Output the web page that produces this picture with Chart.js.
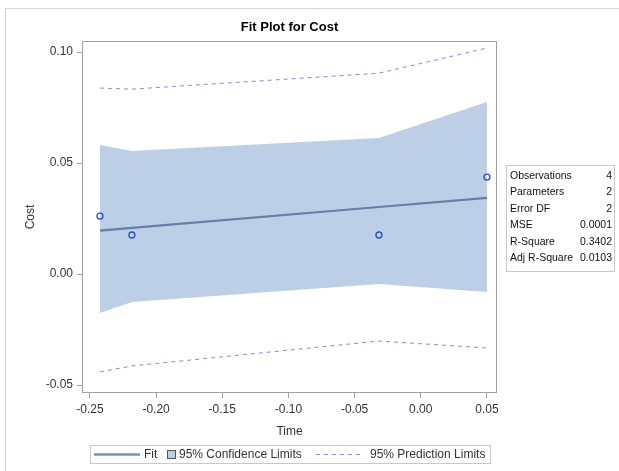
<!DOCTYPE html>
<html>
<head>
<meta charset="utf-8">
<script src="https://cdn.jsdelivr.net/npm/chart.js@4/dist/chart.umd.min.js"></script>
<style>
  html, body { margin: 0; padding: 0; background: #fff; }
  #wrap { width: 619px; height: 471px; position: relative; }
</style>
</head>
<body>
<div id="wrap"><canvas id="c" width="619" height="471"></canvas></div>
<script>
// Observations
const timeValues = [-0.2424, -0.2183, -0.0316, 0.05];
const costValues = [0.0261, 0.0176, 0.0176, 0.0437];
// Fitted line at each observation
const fitValues = [0.0196, 0.0208, 0.0302, 0.0343];
// 95% confidence band
const confUpper = [0.0581, 0.0554, 0.0613, 0.0775];
const confLower = [-0.0176, -0.0126, -0.0045, -0.0081];
// 95% prediction limits
const predUpper = [0.0838, 0.0833, 0.0905, 0.1018];
const predLower = [-0.0441, -0.0414, -0.0302, -0.0333];
// Axis ticks
const xTicks = [-0.25, -0.20, -0.15, -0.10, -0.05, 0.00, 0.05];
const yTicks = [-0.05, 0.00, 0.05, 0.10];
// Fit statistics
const statLabels = ['Observations', 'Parameters', 'Error DF', 'MSE', 'R-Square', 'Adj R-Square'];
const statValues = ['4', '2', '2', '0.0001', '0.3402', '0.0103'];

const FONT = '"Liberation Sans", Arial, sans-serif';
const TXT = '#333333';
const BAND = '#bdcfe7';
const FIT = '#657fa9';
const PRED = '#858bd2';
const MARK = '#2b4fb6';

const pts = (ys) => timeValues.map((x, i) => ({ x: x, y: ys[i] }));

const decorations = {
  id: 'decorations',
  beforeDraw(chart) {
    const ctx = chart.ctx;
    ctx.save();
    ctx.fillStyle = '#fff';
    ctx.fillRect(0, 0, chart.width, chart.height);
    // outer frame
    ctx.strokeStyle = '#d4d4d4';
    ctx.lineWidth = 1;
    ctx.beginPath();
    ctx.moveTo(5.5, 480);
    ctx.lineTo(5.5, 8.5);
    ctx.lineTo(640, 8.5);
    ctx.stroke();
    ctx.restore();
  },
  afterDraw(chart) {
    const ctx = chart.ctx;
    const a = chart.chartArea;
    ctx.save();
    // plot frame
    ctx.strokeStyle = '#a0a0a0';
    ctx.lineWidth = 1;
    ctx.strokeRect(Math.round(a.left) + 0.5, Math.round(a.top) + 0.5,
      Math.round(a.right - a.left) - 1, Math.round(a.bottom - a.top) - 1);

    // title
    ctx.fillStyle = '#000';
    ctx.font = 'bold 13px ' + FONT;
    ctx.textAlign = 'center';
    ctx.textBaseline = 'middle';
    ctx.fillText('Fit Plot for Cost', (a.left + a.right) / 2, 27);

    // axis titles
    ctx.fillStyle = TXT;
    ctx.font = '12px ' + FONT;
    ctx.fillText('Time', (a.left + a.right) / 2, 432);
    ctx.save();
    ctx.translate(31, (a.top + a.bottom) / 2);
    ctx.rotate(-Math.PI / 2);
    ctx.fillText('Cost', 0, 0);
    ctx.restore();

    // statistics table
    ctx.strokeStyle = '#c8c8c8';
    ctx.strokeRect(506.5, 165.5, 108, 106);
    ctx.font = '10.5px ' + FONT;
    ctx.fillStyle = '#111';
    statLabels.forEach((lab, i) => {
      const y = 176 + i * 16.5;
      ctx.textAlign = 'left';
      ctx.fillText(lab, 510, y);
      ctx.textAlign = 'right';
      ctx.fillText(statValues[i], 612, y);
    });

    // legend
    ctx.strokeStyle = '#c8c8c8';
    ctx.strokeRect(90.5, 445.5, 400, 18);
    const ly = 454.5;
    ctx.strokeStyle = '#7890bd';
    ctx.lineWidth = 2.5;
    ctx.beginPath();
    ctx.moveTo(94, ly); ctx.lineTo(140, ly);
    ctx.stroke();
    ctx.fillStyle = TXT;
    ctx.font = '12px ' + FONT;
    ctx.textAlign = 'left';
    ctx.fillText('Fit', 144, ly);
    ctx.fillStyle = BAND;
    ctx.fillRect(167.5, 450.5, 8, 8);
    ctx.strokeStyle = '#555';
    ctx.lineWidth = 1;
    ctx.strokeRect(167.5, 450.5, 8, 8);
    ctx.fillStyle = TXT;
    ctx.fillText('95% Confidence Limits', 179, ly);
    ctx.strokeStyle = PRED;
    ctx.setLineDash([4, 4]);
    ctx.beginPath();
    ctx.moveTo(316, ly); ctx.lineTo(363, ly);
    ctx.stroke();
    ctx.setLineDash([]);
    ctx.fillText('95% Prediction Limits', 370, ly);
    ctx.restore();
  }
};

new Chart(document.getElementById('c'), {
  type: 'scatter',
  data: {
    datasets: [
      { label: 'ciUpper', data: pts(confUpper), showLine: true, borderWidth: 0,
        borderColor: 'rgba(0,0,0,0)', backgroundColor: BAND, pointRadius: 0, fill: '+1', order: 5 },
      { label: 'ciLower', data: pts(confLower), showLine: true, borderWidth: 0,
        borderColor: 'rgba(0,0,0,0)', pointRadius: 0, fill: false, order: 5 },
      { label: 'piUpper', data: pts(predUpper), showLine: true, borderWidth: 1,
        borderColor: PRED, borderDash: [4, 4], pointRadius: 0, fill: false, order: 3 },
      { label: 'piLower', data: pts(predLower), showLine: true, borderWidth: 1,
        borderColor: PRED, borderDash: [4, 4], pointRadius: 0, fill: false, order: 3 },
      { label: 'fit', data: pts(fitValues), showLine: true, borderWidth: 2.2,
        borderColor: FIT, pointRadius: 0, fill: false, order: 2 },
      { label: 'obs', data: pts(costValues), showLine: false, pointRadius: 3,
        pointBorderWidth: 1.3, pointBorderColor: MARK, pointBackgroundColor: 'rgba(0,0,0,0)', order: 1 }
    ]
  },
  options: {
    responsive: false,
    animation: false,
    events: [],
    layout: { padding: { left: 0, top: 41, right: 122, bottom: 0 } },
    plugins: { legend: { display: false }, tooltip: { enabled: false }, title: { display: false } },
    scales: {
      x: {
        type: 'linear', min: -0.256, max: 0.0576,
        afterBuildTicks: (s) => { s.ticks = xTicks.map(v => ({ value: v })); },
        afterFit: (s) => { s.height = 78; },
        border: { display: false },
        grid: { display: true, drawOnChartArea: false, drawTicks: true, tickLength: 5, color: '#a0a0a0' },
        ticks: { color: TXT, font: { family: FONT, size: 12 }, padding: 4, maxRotation: 0,
          callback: (v) => v.toFixed(2) }
      },
      y: {
        type: 'linear', min: -0.0536, max: 0.105,
        afterBuildTicks: (s) => { s.ticks = yTicks.map(v => ({ value: v })); },
        afterFit: (s) => { s.width = 82; },
        border: { display: false },
        grid: { display: true, drawOnChartArea: false, drawTicks: true, tickLength: 5, color: '#a0a0a0' },
        ticks: { color: TXT, font: { family: FONT, size: 12 }, padding: 4,
          callback: (v) => v.toFixed(2) }
      }
    }
  },
  plugins: [decorations]
});
</script>
</body>
</html>
